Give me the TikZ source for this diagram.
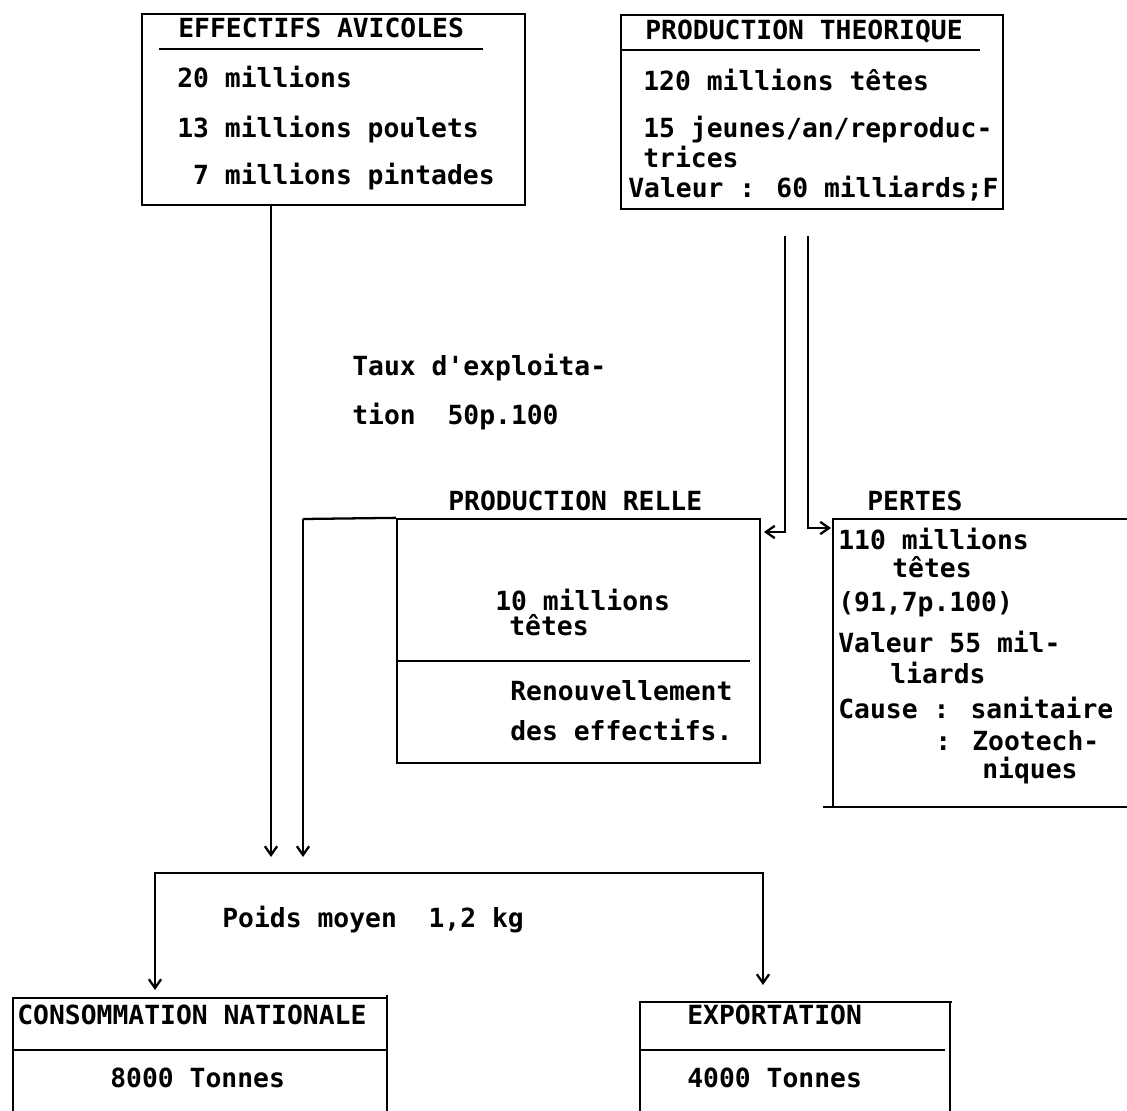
\documentclass[tikz,border=0pt]{standalone}
\usepackage{fontspec}
\newfontfamily\typew{DejaVu Sans Mono}
\usetikzlibrary{arrows.meta, positioning, fit}

\begin{document}
\begin{tikzpicture}[x=0.02cm, y=-0.02cm,
  frame/.style={draw, line width=1.3pt, inner sep=0pt},
  txt/.style={font=\typew\bfseries\fontsize{15}{18}\selectfont, anchor=west,
              inner sep=0pt, text height=11pt, text depth=3pt},
  rule/.style={line width=1.3pt},
  flow/.style={rule, -{Straight Barb[length=5pt, width=7pt]}},
  flows/.style={rule, {Straight Barb[length=5pt, width=7pt]}-{Straight Barb[length=5pt, width=7pt]}}
]
  \useasboundingbox (0,0) rectangle (1127,1111);

  % Effectifs avicoles
  \node[frame, fit={(142,14) (525,205)}] (eff) {};
  \node[txt] (effT) at (178,30) {EFFECTIFS AVICOLES};
  \draw[rule] (159,49) -- (483,49);
  \foreach \y/\t [count=\i] in {80/20 millions, 130/13 millions poulets, 177/\ 7 millions pintades}
    \node[txt] (eff\i) at (177,\y) {\t};

  % Production theorique
  \node[frame, fit={(621,15) (1003,209)}] (theo) {};
  \node[txt] (theoT) at (645,32) {PRODUCTION THEORIQUE};
  \draw[rule] (621,50) -- (980,50);
  \node[txt] (theo1) at (643,83)  {120 millions têtes};
  \node[txt] (theo2) at (643,130) {15 jeunes/an/reproduc-};
  \node[txt] (theo3) at (643,160) {trices};
  \node[txt] (theo4) at (628,190) {Valeur : 60 milliards;F};

  % Taux
  \node[txt] (taux1) at (352,368) {Taux d'exploita-};
  \node[txt] (taux2) at (352,417) {tion\ \ 50p.100};

  % Production reelle
  \node[txt] (relleT) at (448,503) {PRODUCTION RELLE};
  \node[frame, fit={(397,519) (760,763)}] (relle) {};
  \coordinate (relleL) at (303,519);
  \draw[rule] (relleL) -- (relle.north west);
  \draw[rule] (397,661) -- (750,661);
  \node[txt] (relle1) at (495,603) {10 millions};
  \node[txt] (relle2) at (509,628) {têtes};
  \node[txt] (relle3) at (510,693) {Renouvellement};
  \node[txt] (relle4) at (510,733) {des effectifs.};

  % Pertes
  \coordinate (pertesNW) at (833,519);
  \draw[rule] (1127,519) -- (pertesNW) -- (833,807);
  \draw[rule] (823,807) -- (1127,807);
  \node[txt] (pertesT) at (867,503) {PERTES};
  \node[txt] (pertes1) at (838,542) {110 millions};
  \node[txt] (pertes2) at (892,570) {têtes};
  \node[txt] (pertes3) at (838,604) {(91,7p.100)};
  \node[txt] (pertes4) at (838,645) {Valeur 55 mil-};
  \node[txt] (pertes5) at (890,676) {liards};
  \node[txt] (pertes6) at (838,711) {Cause : sanitaire};
  \node[txt] (pertes7) at (935,743) {: Zootech-};
  \node[txt] (pertes8) at (982,771) {niques};

  % Flows from production theorique
  \coordinate (theoA) at (785,236);
  \coordinate (theoB) at (808,236);
  \coordinate (relleIn) at (764,532);
  \coordinate (pertesIn) at (831,528);
  \draw[flow] (theoA) |- (relleIn);
  \draw[flow] (theoB) |- (pertesIn);

  % Flows down to the split
  \coordinate (mergeA) at (271,857);
  \coordinate (mergeB) at (303,857);
  \draw[flow] (eff.south -| mergeA) -- (mergeA);
  \draw[flow] (relleL) -- (mergeB);

  % Split
  \coordinate (splitL) at (155,873);
  \coordinate (splitR) at (763,873);
  \coordinate (consoIn) at (155,990);
  \coordinate (exportIn) at (763,985);
  \draw[flows] (consoIn) -- (splitL) -- (splitR) -- (exportIn);
  \node[txt] (poids) at (222,920) {Poids moyen\ \ 1,2 kg};

  % Consommation nationale
  \draw[rule] (13,1111) -- (13,998) -- (387,998);
  \draw[rule] (387,995) -- (387,1111);
  \draw[rule] (13,1050) -- (387,1050);
  \node[txt] (consoT) at (17,1017) {CONSOMMATION NATIONALE};
  \node[txt] (conso1) at (110,1080) {8000 Tonnes};

  % Exportation
  \draw[rule] (640,1111) -- (640,1002) -- (952,1002);
  \draw[rule] (950,1002) -- (950,1111);
  \draw[rule] (640,1050) -- (945,1050);
  \node[txt] (exportT) at (687,1017) {EXPORTATION};
  \node[txt] (export1) at (687,1080) {4000 Tonnes};
\end{tikzpicture}
\end{document}
